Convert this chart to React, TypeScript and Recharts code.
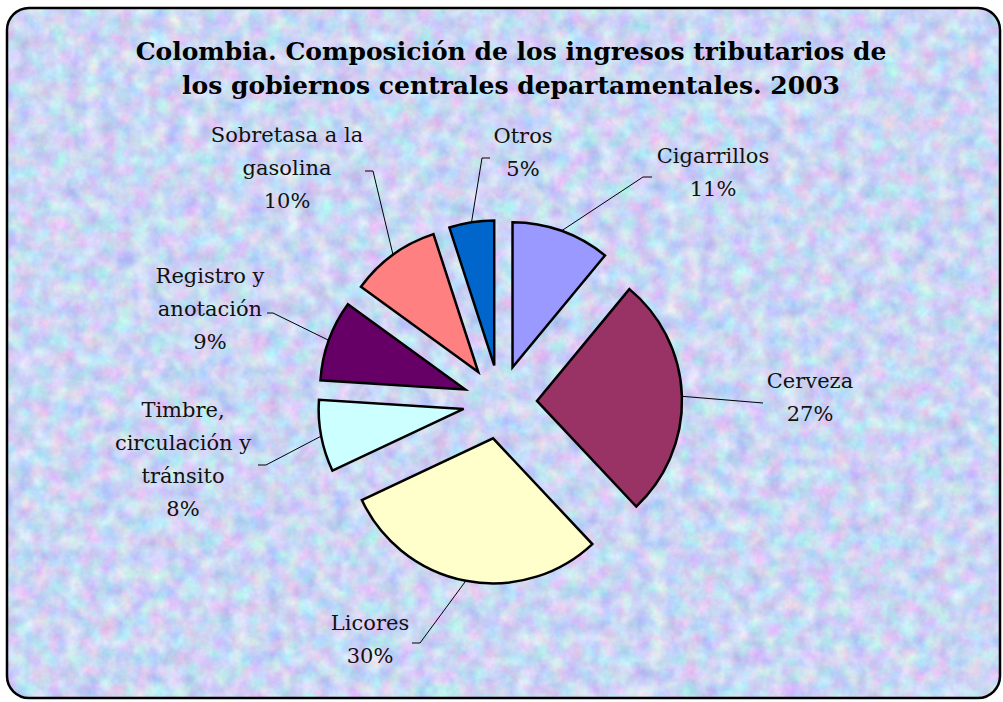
import React from 'react';
import { PieChart, Pie, Sector } from 'recharts';

// ---- data ----
const CATEGORIES = [
  'Cigarrillos',
  'Cerveza',
  'Licores',
  'Timbre, circulación y tránsito',
  'Registro y anotación',
  'Sobretasa a la gasolina',
  'Otros',
];
const SHARES = [11, 27, 30, 8, 9, 10, 5];
const LABEL_LINES = [
  ['Cigarrillos'],
  ['Cerveza'],
  ['Licores'],
  ['Timbre,', 'circulación y', 'tránsito'],
  ['Registro y', 'anotación'],
  ['Sobretasa a la', 'gasolina'],
  ['Otros'],
];
const TITLE_LINES = [
  'Colombia. Composición de los ingresos tributarios de',
  'los gobiernos centrales departamentales. 2003',
];

// ---- styles / layout ----
const COLORS = ['#9999FF', '#993366', '#FFFFCC', '#CCFFFF', '#660066', '#FF8080', '#0066CC'];
const EXPLODE = 37;
const LINE_GAP = 33;
const FONT = '"DejaVu Serif", serif';
// label text anchor (tx, ty = first baseline), leader elbow (ex, ey), horizontal end (hx), relative to pie centre
const LABEL_LAYOUT = [
  { tx: 213, ty: -239, ex: 143, ey: -225, hx: 152 },
  { tx: 310, ty: -14, ex: 263, ey: 1, hx: 263 },
  { tx: -130, ty: 228, ex: -80, ey: 241, hx: -88 },
  { tx: -317, ty: 15, ex: -234, ey: 63, hx: -242 },
  { tx: -290, ty: -119, ex: -227, ey: -89, hx: -233 },
  { tx: -213, ty: -260, ex: -127, ey: -231, hx: -135 },
  { tx: 23, ty: -259, ex: -18, ey: -244, hx: -10 },
];

const data = CATEGORIES.map((name, i) => ({ name, value: SHARES[i] }));

const RAD = Math.PI / 180;

const renderSliceAndLabel = (props: any) => {
  const { cx, cy, midAngle, outerRadius, startAngle, endAngle, index, value } = props;
  const ox = EXPLODE * Math.cos(midAngle * RAD);
  const oy = -EXPLODE * Math.sin(midAngle * RAD);
  const scx = cx + ox;
  const scy = cy + oy;
  const ax = scx + outerRadius * Math.cos(midAngle * RAD);
  const ay = scy - outerRadius * Math.sin(midAngle * RAD);
  const L = LABEL_LAYOUT[index];
  const lines = [...LABEL_LINES[index], `${value}%`];
  return (
    <g key={`slice-${index}`}>
      <Sector
        cx={scx}
        cy={scy}
        innerRadius={0}
        outerRadius={outerRadius}
        startAngle={startAngle}
        endAngle={endAngle}
        fill={COLORS[index]}
        stroke="#000"
        strokeWidth={2.5}
        strokeLinejoin="miter"
      />
      <polyline
        points={`${ax},${ay} ${cx + L.ex},${cy + L.ey} ${cx + L.hx},${cy + L.ey}`}
        fill="none"
        stroke="#000"
        strokeWidth={1}
      />
      <text
        x={cx + L.tx}
        y={cy + L.ty}
        textAnchor="middle"
        fontFamily={FONT}
        fontSize={21}
        fill="#111"
      >
        {lines.map((t, k) => (
          <tspan key={k} x={cx + L.tx} dy={k === 0 ? 0 : LINE_GAP}>
            {t}
          </tspan>
        ))}
      </text>
    </g>
  );
};

export default function App() {
  return (
    <div style={{ position: 'absolute', left: 0, top: 0, width: 1003, height: 702, background: '#fff' }}>
      <svg width={1003} height={702} style={{ position: 'absolute', left: 0, top: 0 }}>
        <defs>
          <filter id="tex" x="0" y="0" width="100%" height="100%" colorInterpolationFilters="sRGB">
            <feTurbulence type="fractalNoise" baseFrequency="0.06" numOctaves={4} seed={7} result="n" />
            <feColorMatrix
              in="n"
              type="matrix"
              values="0.4 0 0 0 0.595  0 0.35 0 0 0.665  0 0 0.15 0 0.88  0 0 0 0 1"
            />
          </filter>
          <clipPath id="frameClip">
            <rect x={7} y={8} width={993} height={690} rx={22} ry={22} />
          </clipPath>
        </defs>
        <g clipPath="url(#frameClip)">
          <rect x={7} y={8} width={993} height={690} fill="#cbd6f3" />
          <rect x={7} y={8} width={993} height={690} filter="url(#tex)" />
        </g>
        <rect x={7} y={8} width={993} height={690} rx={22} ry={22} fill="none" stroke="#000" strokeWidth={2.5} />
        {TITLE_LINES.map((t, i) => (
          <text
            key={i}
            x={511}
            y={60 + i * 34}
            textAnchor="middle"
            fontFamily={FONT}
            fontWeight="bold"
            fontSize={25}
            fill="#000"
          >
            {t}
          </text>
        ))}
      </svg>
      <div style={{ position: 'absolute', left: 0, top: 0 }}>
        <PieChart width={1003} height={702} margin={{ top: 0, right: 0, bottom: 0, left: 0 }}>
          <Pie
            data={data}
            dataKey="value"
            nameKey="name"
            cx={500}
            cy={402}
            outerRadius={145}
            startAngle={90}
            endAngle={-270}
            fill="none"
            stroke="none"
            label={renderSliceAndLabel}
            labelLine={false}
            isAnimationActive={false}
          />
        </PieChart>
      </div>
    </div>
  );
}
